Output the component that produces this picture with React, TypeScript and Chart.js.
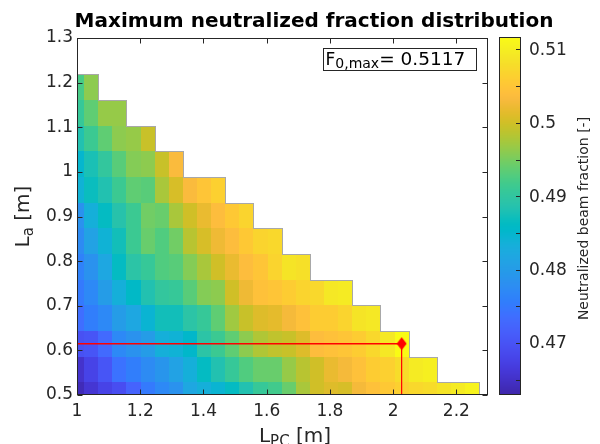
import React, { useEffect, useRef } from "react";
import { Chart, registerables } from "chart.js";

Chart.register(...registerables);

// ---------------- data ----------------
// L_PC grid (cell centres, m)
const lpcValues = [
  1.0, 1.0446, 1.0893, 1.1339, 1.1786, 1.2232, 1.2679, 1.3125, 1.3571, 1.4018,
  1.4464, 1.4911, 1.5357, 1.5804, 1.625, 1.6696, 1.7143, 1.7589, 1.8036, 1.8482,
  1.8929, 1.9375, 1.9821, 2.0268, 2.0714, 2.1161, 2.1607, 2.2054, 2.25,
];
// L_a grid (cell centres, m)
const laValues = [
  0.5, 0.5575, 0.615, 0.6725, 0.73, 0.7875, 0.845, 0.9025, 0.96, 1.0175, 1.075,
  1.1325, 1.19,
];
// neutralized beam fraction, one list per L_a row (starting at L_PC = 1)
const fracLa0 = [0.4639, 0.4658, 0.4678, 0.4692, 0.4722, 0.4751, 0.4771, 0.4785, 0.4819, 0.4834, 0.4844, 0.4863, 0.4883, 0.4907, 0.4917, 0.4941, 0.4976, 0.5, 0.501, 0.5005, 0.5029, 0.5044, 0.5054, 0.5063, 0.5073, 0.5078, 0.5088, 0.5097, 0.5107];
const fracLa1 = [0.4653, 0.4678, 0.4702, 0.4741, 0.4756, 0.4775, 0.479, 0.481, 0.4834, 0.4863, 0.4883, 0.4907, 0.4927, 0.4941, 0.4941, 0.4966, 0.4985, 0.5, 0.5019, 0.5029, 0.5044, 0.5058, 0.5063, 0.5078, 0.5097, 0.5102];
const fracLa2 = [0.4697, 0.4702, 0.4731, 0.4771, 0.4785, 0.48, 0.4834, 0.4839, 0.4853, 0.4893, 0.4912, 0.4936, 0.4961, 0.498, 0.499, 0.4995, 0.501, 0.5039, 0.5044, 0.5049, 0.5058, 0.5073, 0.5093, 0.5117];
const fracLa3 = [0.4736, 0.4756, 0.4771, 0.48, 0.4819, 0.4844, 0.4873, 0.4873, 0.4893, 0.4907, 0.4936, 0.4971, 0.4995, 0.501, 0.5015, 0.5029, 0.5044, 0.5058, 0.5058, 0.5068, 0.5088, 0.5093];
const fracLa4 = [0.4751, 0.4771, 0.48, 0.4834, 0.4858, 0.4883, 0.4902, 0.4907, 0.4932, 0.4956, 0.4961, 0.5, 0.5024, 0.5044, 0.5049, 0.5058, 0.5068, 0.5073, 0.5093, 0.5097];
const fracLa5 = [0.4761, 0.4785, 0.4819, 0.4863, 0.4893, 0.4907, 0.4927, 0.4932, 0.4956, 0.4976, 0.5, 0.5019, 0.5039, 0.5049, 0.5068, 0.5088, 0.5083];
const fracLa6 = [0.4775, 0.481, 0.4839, 0.4873, 0.4912, 0.4941, 0.4927, 0.4946, 0.4985, 0.5005, 0.5024, 0.5039, 0.5054, 0.5068, 0.5073];
const fracLa7 = [0.4785, 0.4834, 0.4863, 0.4888, 0.4912, 0.4946, 0.4941, 0.4976, 0.5, 0.5019, 0.5039, 0.5054, 0.5068];
const fracLa8 = [0.4839, 0.4868, 0.4883, 0.4912, 0.4936, 0.4932, 0.4976, 0.5005, 0.5034, 0.5049, 0.5063];
const fracLa9 = [0.4849, 0.4878, 0.4902, 0.4932, 0.4956, 0.4961, 0.4995, 0.5034];
const fracLa10 = [0.4883, 0.4912, 0.4936, 0.4961, 0.4966, 0.4995];
const fracLa11 = [0.4907, 0.4936, 0.4966, 0.4966];
const fracLa12 = [0.4922, 0.4961];
const fracRows = [fracLa0, fracLa1, fracLa2, fracLa3, fracLa4, fracLa5, fracLa6, fracLa7, fracLa8, fracLa9, fracLa10, fracLa11, fracLa12];

const colorMin = 0.4629;
const colorMax = 0.5117;
const colorbarTicks = [0.47, 0.48, 0.49, 0.5, 0.51];
const colorbarMinorTicks = [0.465, 0.47, 0.475, 0.48, 0.485, 0.49, 0.495, 0.5, 0.505, 0.51];

const titleText = "Maximum neutralized fraction distribution";
const colorbarLabel = "Neutralized beam fraction [-]";

// ---------------- parula colormap ----------------
const PARULA = [
  [0.2422, 0.1504, 0.6603], [0.2504, 0.165, 0.7076], [0.2578, 0.1818, 0.7511], [0.2647, 0.1978, 0.7952],
  [0.2706, 0.2147, 0.8364], [0.2751, 0.2342, 0.871], [0.2783, 0.2559, 0.8991], [0.2803, 0.2782, 0.9221],
  [0.2813, 0.3006, 0.9414], [0.281, 0.3228, 0.9579], [0.2795, 0.3447, 0.9717], [0.276, 0.3667, 0.9829],
  [0.2699, 0.3892, 0.9906], [0.2602, 0.4123, 0.9952], [0.244, 0.4358, 0.9988], [0.2206, 0.4603, 0.9973],
  [0.1963, 0.4847, 0.9892], [0.1834, 0.5074, 0.9798], [0.1786, 0.5289, 0.9682], [0.1764, 0.5499, 0.952],
  [0.1687, 0.5703, 0.9359], [0.154, 0.5902, 0.9218], [0.146, 0.6091, 0.9079], [0.138, 0.6276, 0.8973],
  [0.1248, 0.6459, 0.8883], [0.1113, 0.6635, 0.8763], [0.0952, 0.6798, 0.8598], [0.0689, 0.6948, 0.8394],
  [0.0297, 0.7082, 0.8163], [0.0036, 0.7203, 0.7917], [0.0067, 0.7312, 0.766], [0.0433, 0.7411, 0.7394],
  [0.0964, 0.75, 0.712], [0.1408, 0.7584, 0.6842], [0.1717, 0.767, 0.6554], [0.1938, 0.7758, 0.6251],
  [0.2161, 0.7843, 0.5923], [0.247, 0.7918, 0.5567], [0.2906, 0.7973, 0.5188], [0.3406, 0.8008, 0.4789],
  [0.3909, 0.8029, 0.4354], [0.4456, 0.8024, 0.3909], [0.5044, 0.7993, 0.348], [0.5616, 0.7942, 0.3045],
  [0.6174, 0.7876, 0.2612], [0.672, 0.7793, 0.2227], [0.7242, 0.7698, 0.191], [0.7738, 0.7598, 0.1646],
  [0.8203, 0.7498, 0.1535], [0.8634, 0.7406, 0.1596], [0.9035, 0.733, 0.1774], [0.9393, 0.7288, 0.21],
  [0.9728, 0.7298, 0.2394], [0.9956, 0.7434, 0.2371], [0.997, 0.7659, 0.2199], [0.9952, 0.7893, 0.2028],
  [0.9892, 0.8136, 0.1885], [0.9786, 0.8386, 0.1766], [0.9676, 0.8639, 0.1643], [0.961, 0.889, 0.1537],
  [0.9597, 0.9135, 0.1423], [0.9628, 0.9373, 0.1265], [0.9691, 0.9606, 0.1064], [0.9769, 0.9839, 0.0805],
];

function parula(t: number): string {
  const tt = Math.max(0, Math.min(1, t)) * (PARULA.length - 1);
  const i = Math.floor(tt);
  const j = Math.min(PARULA.length - 1, i + 1);
  const f = tt - i;
  const c = PARULA[i].map((v, k) => Math.round(255 * (v + (PARULA[j][k] - v) * f)));
  return `rgb(${c[0]},${c[1]},${c[2]})`;
}

const FONT = "'DejaVu Sans', Verdana, sans-serif";
const AX = "#262626";

// maximum location
let maxRow = 0, maxCol = 0, maxVal = -Infinity;
fracRows.forEach((row, r) => row.forEach((v, c) => { if (v > maxVal) { maxVal = v; maxRow = r; maxCol = c; } }));
const maxX = lpcValues[maxCol];
const maxY = laValues[maxRow];

type Run = { text: string; size: number; dy: number; bold?: boolean };

function runsWidth(ctx: CanvasRenderingContext2D, runs: Run[]) {
  let w = 0;
  for (const r of runs) {
    ctx.font = `${r.bold ? "bold " : ""}${r.size}px ${FONT}`;
    w += ctx.measureText(r.text).width;
  }
  return w;
}
function drawRuns(ctx: CanvasRenderingContext2D, runs: Run[], x: number, y: number) {
  let cx = x;
  for (const r of runs) {
    ctx.font = `${r.bold ? "bold " : ""}${r.size}px ${FONT}`;
    ctx.fillText(r.text, cx, y + r.dy);
    cx += ctx.measureText(r.text).width;
  }
}

function makeDiamond(): HTMLCanvasElement {
  const c = document.createElement("canvas");
  c.width = 11;
  c.height = 14;
  const g = c.getContext("2d")!;
  g.fillStyle = "#ff0000";
  g.beginPath();
  g.moveTo(5.5, 0.5);
  g.lineTo(10.5, 7);
  g.lineTo(5.5, 13.5);
  g.lineTo(0.5, 7);
  g.closePath();
  g.fill();
  return c;
}

const heatmapPlugin = {
  id: "heatmap",
  beforeDatasetsDraw(chart: any) {
    const { ctx, chartArea: ca, scales } = chart;
    const xs = scales.x, ys = scales.y;
    const hx = (lpcValues[1] - lpcValues[0]) / 2;
    const hy = (laValues[1] - laValues[0]) / 2;
    ctx.save();
    ctx.beginPath();
    ctx.rect(ca.left, ca.top, ca.right - ca.left, ca.bottom - ca.top);
    ctx.clip();
    fracRows.forEach((row, r) => {
      row.forEach((v, c) => {
        const l = Math.round(xs.getPixelForValue(lpcValues[c] - hx));
        const rr = Math.round(xs.getPixelForValue(lpcValues[c] + hx));
        const t = Math.round(ys.getPixelForValue(laValues[r] + hy));
        const b = Math.round(ys.getPixelForValue(laValues[r] - hy));
        ctx.fillStyle = parula((v - colorMin) / (colorMax - colorMin));
        ctx.fillRect(l, t, rr - l, b - t);
      });
    });
    // outline of the computed region
    ctx.strokeStyle = "#a8a8a8";
    ctx.lineWidth = 1;
    ctx.beginPath();
    fracRows.forEach((row, r) => {
      row.forEach((_v, c) => {
        const l = Math.round(xs.getPixelForValue(lpcValues[c] - hx));
        const rr = Math.round(xs.getPixelForValue(lpcValues[c] + hx));
        const t = Math.round(ys.getPixelForValue(laValues[r] + hy));
        const b = Math.round(ys.getPixelForValue(laValues[r] - hy));
        const above = fracRows[r + 1];
        if (!above || above.length <= c) {
          ctx.moveTo(l, t + 0.5);
          ctx.lineTo(rr + 0.5, t + 0.5);
        }
        if (c === row.length - 1) {
          ctx.moveTo(rr + 0.5, t);
          ctx.lineTo(rr + 0.5, b);
        }
      });
    });
    ctx.stroke();
    ctx.restore();
  },
  afterDatasetsDraw(chart: any) {
    const { ctx, chartArea: ca, scales } = chart;
    const xs = scales.x, ys = scales.y;
    const L = Math.round(ca.left) + 0.5, R = Math.round(ca.right) - 0.5;
    const T = Math.round(ca.top) + 0.5, B = Math.round(ca.bottom) - 0.5;
    ctx.save();
    ctx.strokeStyle = AX;
    ctx.lineWidth = 1;
    ctx.strokeRect(L, T, R - L, B - T);
    ctx.beginPath();
    const tl = 5;
    xs.ticks.forEach((tk: any) => {
      const p = Math.round(xs.getPixelForValue(tk.value)) + 0.5;
      ctx.moveTo(p, B); ctx.lineTo(p, B - tl);
      ctx.moveTo(p, T); ctx.lineTo(p, T + tl);
    });
    ys.ticks.forEach((tk: any) => {
      const p = Math.round(ys.getPixelForValue(tk.value)) + 0.5;
      ctx.moveTo(L, p); ctx.lineTo(L + tl, p);
      ctx.moveTo(R, p); ctx.lineTo(R - tl, p);
    });
    ctx.stroke();

    // annotation box
    const boxR = ca.right - 12.5, boxL = ca.right - 165.5;
    const boxT = ca.top + 9.5, boxB = ca.top + 31;
    ctx.fillStyle = "#ffffff";
    ctx.fillRect(boxL, boxT, boxR - boxL, boxB - boxT);
    ctx.strokeStyle = AX;
    ctx.strokeRect(Math.round(boxL) + 0.5, Math.round(boxT) + 0.5, Math.round(boxR - boxL), Math.round(boxB - boxT));
    ctx.fillStyle = "#000000";
    ctx.textBaseline = "alphabetic";
    ctx.textAlign = "left";
    drawRuns(ctx, [
      { text: "F", size: 17, dy: 0 },
      { text: "0,max", size: 14, dy: 3 },
      { text: "= " + maxVal.toFixed(4), size: 18.5, dy: 0 },
    ], boxL + 3, ca.top + 27);
    ctx.restore();
  },
  afterDraw(chart: any) {
    const { ctx, chartArea: ca } = chart;
    ctx.save();
    // colorbar
    const cbL = Math.round(ca.right + 11), cbW = 22;
    const cbT = Math.round(ca.top) - 1, cbB = Math.round(ca.bottom);
    for (let y = cbT; y < cbB; y++) {
      const t = 1 - (y + 0.5 - cbT) / (cbB - cbT);
      ctx.fillStyle = parula(t);
      ctx.fillRect(cbL, y, cbW, 1);
    }
    ctx.strokeStyle = AX;
    ctx.lineWidth = 1;
    ctx.strokeRect(cbL + 0.5, cbT + 0.5, cbW - 1, cbB - cbT - 1);
    const valToY = (v: number) => cbB - ((v - colorMin) / (colorMax - colorMin)) * (cbB - cbT);
    ctx.beginPath();
    colorbarMinorTicks.forEach((v) => {
      const y = Math.round(valToY(v)) + 0.5;
      ctx.moveTo(cbL + cbW - 1, y);
      ctx.lineTo(cbL + cbW - 5, y);
    });
    ctx.stroke();
    ctx.fillStyle = AX;
    ctx.font = `17px ${FONT}`;
    ctx.textAlign = "left";
    ctx.textBaseline = "middle";
    colorbarTicks.forEach((v) => {
      ctx.fillText(String(Number(v.toFixed(3))), cbL + cbW + 8, valToY(v) + 1);
    });
    // colorbar label
    ctx.save();
    ctx.translate(584, (ca.top + ca.bottom) / 2 + 2);
    ctx.rotate(-Math.PI / 2);
    ctx.font = `14px ${FONT}`;
    ctx.textAlign = "center";
    ctx.textBaseline = "middle";
    ctx.fillText(colorbarLabel, 0, 0);
    ctx.restore();

    // title
    ctx.fillStyle = "#000000";
    ctx.font = `bold 20px ${FONT}`;
    ctx.textAlign = "center";
    ctx.textBaseline = "alphabetic";
    ctx.fillText(titleText, 314, 26.5);

    // x label
    ctx.fillStyle = AX;
    ctx.textAlign = "left";
    const xRuns: Run[] = [
      { text: "L", size: 20, dy: 0 },
      { text: "PC", size: 15, dy: 4 },
      { text: " [m]", size: 20, dy: 0 },
    ];
    const xw = runsWidth(ctx, xRuns);
    drawRuns(ctx, xRuns, 295 - xw / 2, 442);

    // y label
    const yRuns: Run[] = [
      { text: "L", size: 20, dy: 0 },
      { text: "a", size: 15, dy: 4 },
      { text: " [m]", size: 20, dy: 0 },
    ];
    ctx.save();
    ctx.translate(29, (ca.top + ca.bottom) / 2);
    ctx.rotate(-Math.PI / 2);
    const yw = runsWidth(ctx, yRuns);
    drawRuns(ctx, yRuns, -yw / 2, 0);
    ctx.restore();
    ctx.restore();
  },
};

const fmt = (v: number) => String(Number(v.toFixed(2)));

export default function App() {
  const ref = useRef<HTMLCanvasElement | null>(null);
  useEffect(() => {
    if (!ref.current) return;
    const diamond = makeDiamond();
    const chart = new Chart(ref.current, {
      type: "scatter",
      data: {
        datasets: [
          {
            type: "line",
            data: [{ x: lpcValues[0], y: maxY }, { x: maxX, y: maxY }],
            borderColor: "#ff0000",
            borderWidth: 1.5,
            pointRadius: 0,
          } as any,
          {
            type: "line",
            data: [{ x: maxX, y: laValues[0] }, { x: maxX, y: maxY }],
            borderColor: "#ff0000",
            borderWidth: 1.2,
            pointRadius: 0,
          } as any,
          {
            type: "scatter",
            data: [{ x: maxX, y: maxY }],
            pointStyle: diamond,
            pointRadius: 6,
          } as any,
        ],
      },
      options: {
        animation: false,
        responsive: false,
        maintainAspectRatio: false,
        layout: { padding: { left: 0, right: 112, top: 38, bottom: 0 } },
        plugins: { legend: { display: false }, tooltip: { enabled: false }, title: { display: false } },
        scales: {
          x: {
            type: "linear",
            min: 1,
            max: 2.3,
            ticks: {
              stepSize: 0.2,
              includeBounds: false,
              autoSkip: false,
              maxRotation: 0,
              padding: 6,
              color: AX,
              font: { family: FONT, size: 17 },
              callback: (v: any) => fmt(Number(v)),
            },
            grid: { display: false, drawTicks: false },
            border: { display: false },
            afterFit: (s: any) => { s.height = 49; },
          },
          y: {
            type: "linear",
            min: 0.5,
            max: 1.3,
            ticks: {
              stepSize: 0.1,
              includeBounds: false,
              autoSkip: false,
              padding: 4,
              color: AX,
              font: { family: FONT, size: 17 },
              callback: (v: any) => fmt(Number(v)),
            },
            grid: { display: false, drawTicks: false },
            border: { display: false },
            afterFit: (s: any) => { s.width = 77; },
          },
        },
      } as any,
      plugins: [heatmapPlugin],
    });
    return () => chart.destroy();
  }, []);
  return (
    <div style={{ position: "absolute", left: 0, top: 0, width: 600, height: 444, background: "#fff" }}>
      <canvas ref={ref} width={600} height={444} />
    </div>
  );
}
